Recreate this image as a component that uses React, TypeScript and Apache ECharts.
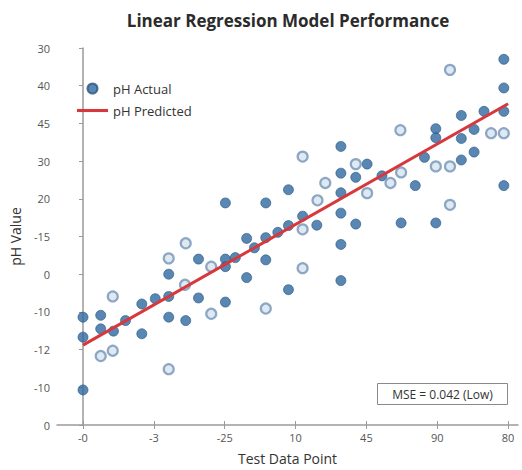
import React, { useEffect, useRef } from "react";
import * as echarts from "echarts";

// Tick labels as printed in the reference (positions 0..n on each axis)
const xTickLabels = ["-0", "-3", "-25", "10", "45", "90", "80"];
const yTickLabels = ["0", "-10", "-12", "-10", "0", "-15", "20", "30", "45", "40", "30"];

// pH Actual points, filled markers: [x position, y position] in tick units
const actualFilled: [number, number][] = [
  [5.94, 9.7], [5.94, 8.94], [5.34, 8.21], [5.66, 8.32], [5.94, 8.32],
  [4.98, 7.86], [4.98, 7.62], [5.34, 7.6], [5.52, 7.84], [3.64, 7.39],
  [5.52, 7.24], [4.82, 7.1], [5.34, 7.03], [4.01, 6.92], [3.64, 6.68],
  [3.85, 6.57], [4.22, 6.61], [2.9, 6.24], [4.69, 6.35], [5.94, 6.35],
  [3.64, 6.16], [3.1, 5.54], [3.64, 5.62], [2.9, 5.29], [3.3, 5.3],
  [3.85, 5.33], [4.49, 5.36], [4.98, 5.36], [3.64, 4.79], [3.64, 3.83],
  [2.9, 3.59], [2.01, 5.89], [2.58, 5.89],
  [0, 2.86], [0, 2.33], [0.25, 2.91], [0.25, 2.55], [0.43, 2.49],
  [0.6, 2.77], [0, 0.93], [0.83, 3.21], [0.83, 2.42], [1.02, 3.35],
  [1.21, 3.41], [1.21, 2.86], [1.21, 4.0], [1.45, 2.77], [1.63, 4.4],
  [1.63, 3.37], [2.01, 4.4], [2.01, 4.2], [2.01, 3.26], [2.15, 4.44],
  [2.31, 4.95], [2.31, 3.91], [2.42, 4.7], [2.58, 4.97], [2.58, 4.38],
  [2.75, 5.11],
];

// pH Actual points, ring markers
const actualRing: [number, number][] = [
  [5.18, 9.42], [4.48, 7.82], [5.76, 7.74], [5.94, 7.74], [3.1, 7.12],
  [3.85, 6.92], [4.49, 6.7], [4.98, 6.86], [5.18, 6.86], [3.42, 6.42],
  [4.34, 6.42], [4.01, 6.15], [3.31, 5.96], [5.18, 5.84], [3.1, 5.19],
  [3.1, 4.16],
  [0.42, 3.41], [0.25, 1.83], [0.42, 1.97], [1.21, 1.48], [1.21, 4.42],
  [1.45, 4.82], [1.44, 3.72], [1.81, 4.2], [1.81, 2.95], [2.58, 3.09],
];

// pH Predicted regression line endpoints
const predicted: [number, number][] = [[0, 2.12], [6, 8.52]];

const mseText = "MSE = 0.042 (Low)";

const FONT = "'Open Sans', 'DejaVu Sans', sans-serif";

export default function App() {
  const ref = useRef<HTMLDivElement>(null);
  useEffect(() => {
    if (!ref.current) return;
    const chart = echarts.init(ref.current, null, { renderer: "svg" });
    const tickVals = xTickLabels.map((_, i) => i);
    const baseX = {
      type: "value" as const,
      min: -0.367,
      max: 6.14,
      splitLine: { show: false },
    };
    const scatterData = [
      ...actualFilled.map((p) => ({ value: p })),
      ...actualRing.map((p) => ({
        value: p,
        itemStyle: { color: "#d6e4f0", borderColor: "#7393b5", borderWidth: 2.2 },
      })),
    ];
    chart.setOption({
      animation: false,
      backgroundColor: "#ffffff",
      textStyle: { fontFamily: FONT },
      title: {
        text: "Linear Regression Model Performance",
        left: 283,
        top: 7,
        textAlign: "center",
        textStyle: { fontSize: 17, fontWeight: "bold", color: "#2b2b2b", fontFamily: FONT },
      },
      legend: {
        orient: "vertical",
        left: 72,
        top: 77,
        itemWidth: 31,
        itemHeight: 10,
        itemGap: 9,
        textStyle: { fontSize: 13, color: "#333", fontFamily: FONT },
        data: [
          { name: "pH Actual", icon: "circle" },
          { name: "pH Predicted", icon: "path://M0,0H40V4H0Z" },
        ],
      },
      grid: { left: 57, right: 4, top: 48, bottom: 42, containLabel: false },
      xAxis: [
        {
          ...baseX,
          name: "Test Data Point",
          nameLocation: "middle",
          nameGap: 26,
          nameTextStyle: { fontSize: 14, color: "#333", fontFamily: FONT },
          axisLine: { show: true, lineStyle: { color: "#9a9a9a", width: 1.5 } },
          axisTick: { show: true, length: 4, customValues: tickVals, lineStyle: { color: "#9a9a9a" } },
          axisLabel: {
            customValues: tickVals,
            fontSize: 11,
            color: "#555",
            margin: 7,
            formatter: (v: number) => xTickLabels[Math.round(v)] ?? "",
          },
        },
        {
          ...baseX,
          position: "bottom",
          axisLine: { show: false },
          axisTick: { show: true, inside: true, length: 4, customValues: tickVals, lineStyle: { color: "#9a9a9a" } },
          axisLabel: { show: false },
        },
      ],
      yAxis: {
        type: "value",
        min: 0,
        max: 10,
        interval: 1,
        name: "pH Value",
        nameLocation: "middle",
        nameGap: 35,
        nameTextStyle: { fontSize: 14, color: "#333", fontFamily: FONT },
        splitLine: { show: false },
        axisLine: { show: true, lineStyle: { color: "#9a9a9a", width: 1.5 } },
        axisTick: { show: true, length: 4, lineStyle: { color: "#9a9a9a" } },
        axisLabel: {
          fontSize: 11,
          color: "#555",
          margin: 7,
          formatter: (v: number) => yTickLabels[Math.round(v)] ?? "",
        },
      },
      series: [
        {
          name: "pH Actual",
          type: "scatter",
          symbol: "circle",
          symbolSize: 10,
          itemStyle: { color: "#2e69a0", borderColor: "#28547e", borderWidth: 0.8 },
          data: scatterData,
          z: 3,
        },
        {
          name: "pH Predicted",
          type: "line",
          symbol: "none",
          lineStyle: { color: "#d7383c", width: 3 },
          itemStyle: { color: "#d7383c" },
          data: predicted,
          z: 4,
        },
      ],
      graphic: [
        {
          type: "group",
          left: 377,
          top: 383,
          children: [
            {
              type: "rect",
              shape: { x: 0, y: 0, width: 130, height: 21 },
              style: { fill: "#ffffff", stroke: "#8a8a8a", lineWidth: 1 },
            },
            {
              type: "text",
              x: 65,
              y: 10.5,
              style: {
                text: mseText,
                fill: "#333",
                fontSize: 12,
                fontFamily: FONT,
                align: "center",
                verticalAlign: "middle",
              },
            },
          ],
        },
      ],
    });
    return () => chart.dispose();
  }, []);
  return (
    <div
      ref={ref}
      style={{ position: "absolute", left: 0, top: 0, width: 522, height: 470, background: "#fff" }}
    />
  );
}
